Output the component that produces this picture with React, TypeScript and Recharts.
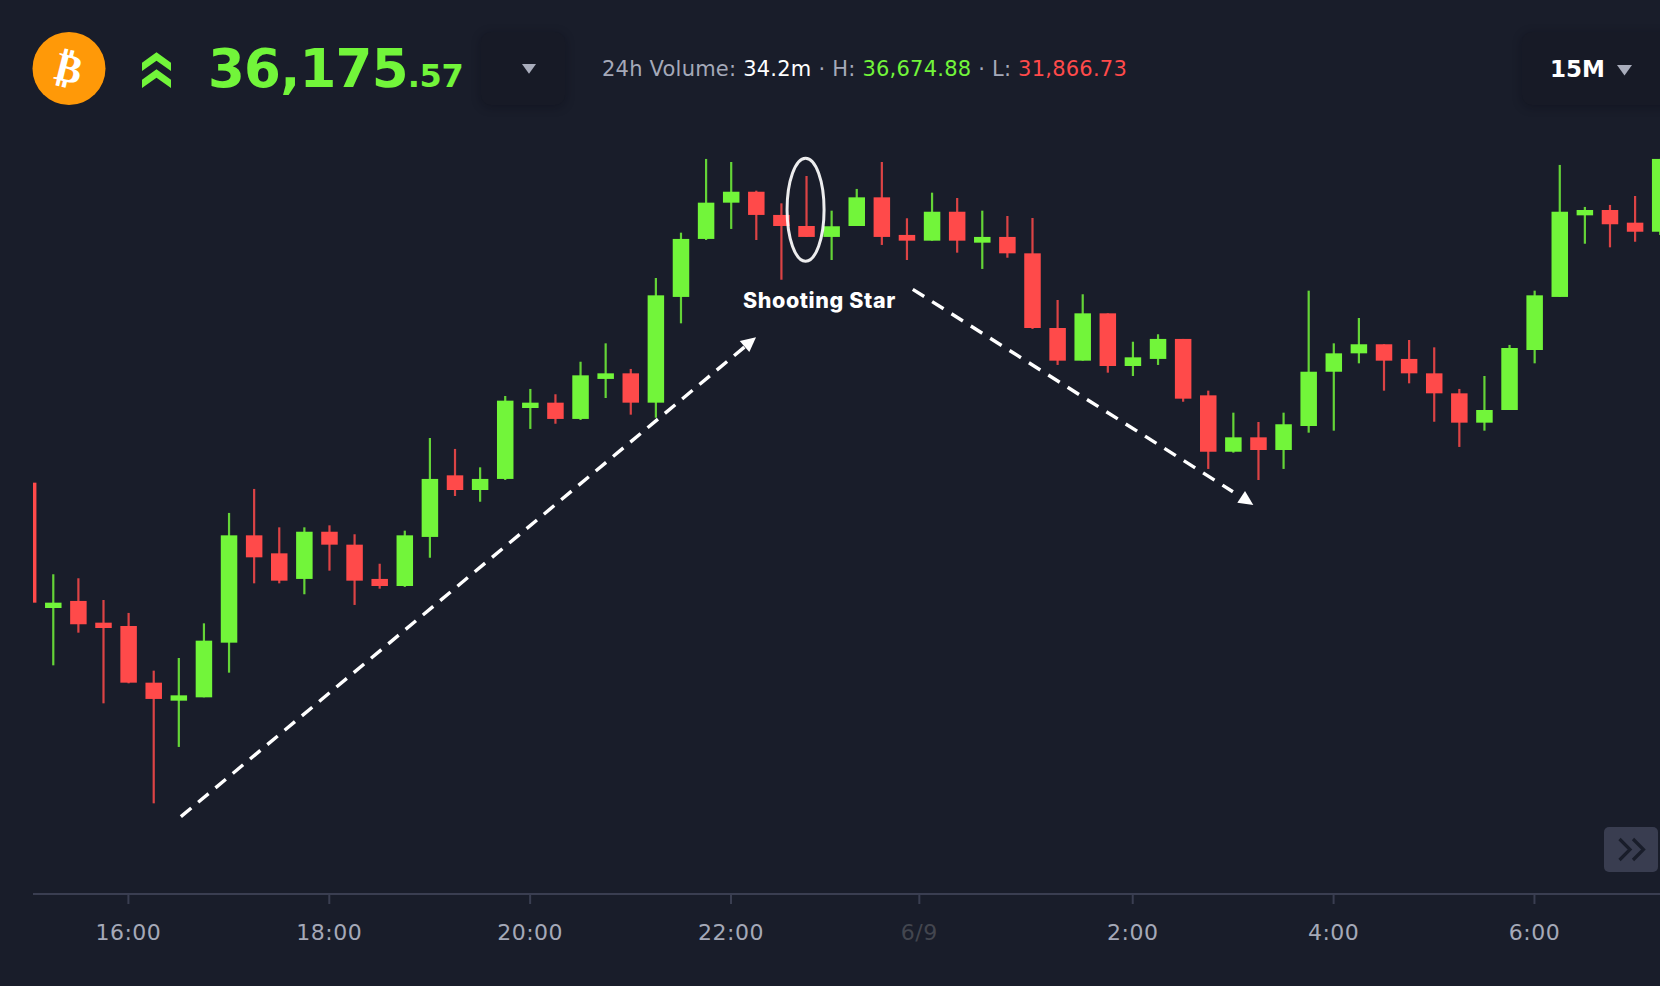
import { BarChart, Bar, XAxis, YAxis, ReferenceLine, ReferenceDot } from 'recharts';

const BG = '#191d2a';
const GREEN = '#72f53a';
const RED = '#ff4a4a';
const FONT = 'Inter, "Noto Sans", sans-serif';
const WIDE_FONT = '"DejaVu Sans", sans-serif';

// 15 minute candles
const opens = [
  34255, 33315, 33368, 33205, 33180, 32755, 32620, 32645, 33055, 33860, 33725,
  33533, 33887, 33790, 33533, 33480, 33848, 34310, 34200, 34283, 34815, 34855,
  34733, 35033, 35075, 34855, 35648, 36083, 36355, 36437, 36263, 36180, 36098,
  36180, 36395, 36113, 36070, 36287, 36055, 36098, 35975, 35415, 35170, 35525,
  35130, 35183, 35333, 34910, 34487, 34595, 34500, 34680, 35087, 35225, 35293,
  35183, 35075, 34925, 34705, 34800, 35250, 35648, 36260, 36300, 36205, 36137,
];
const closes = [
  33355, 33355, 33193, 33165, 32755, 32633, 32660, 33070, 33860, 33695, 33520,
  33887, 33790, 33520, 33480, 33860, 34283, 34200, 34283, 34870, 34855, 34733,
  35060, 35075, 34855, 35660, 36083, 36355, 36437, 36263, 36180, 36098, 36178,
  36395, 36098, 36070, 36287, 36070, 36098, 35975, 35415, 35170, 35525, 35130,
  35195, 35333, 34885, 34487, 34595, 34500, 34693, 35087, 35225, 35293, 35170,
  35075, 34925, 34705, 34800, 35265, 35660, 36287, 36300, 36193, 36137, 36683,
];
const highs = [
  34255, 33568, 33538, 33375, 33278, 32845, 32940, 33200, 34028, 34208, 33920,
  33920, 33935, 33868, 33647, 33895, 34590, 34508, 34370, 34905, 34958, 34918,
  35162, 35300, 35108, 35790, 36130, 36683, 36660, 36445, 36350, 36555, 36295,
  36458, 36660, 36238, 36430, 36390, 36295, 36255, 36240, 35625, 35668, 35525,
  35312, 35368, 35333, 34945, 34780, 34710, 34780, 35695, 35300, 35490, 35293,
  35325, 35270, 34958, 35055, 35288, 35695, 36638, 36323, 36338, 36405, 36683,
];
const lows = [
  33355, 32885, 33130, 32600, 32750, 31850, 32273, 32645, 32830, 33500, 33500,
  33418, 33595, 33338, 33460, 33473, 33692, 34155, 34112, 34275, 34658, 34697,
  34725, 34890, 34765, 34742, 35450, 36075, 36158, 36075, 35777, 36098, 35925,
  36180, 36038, 35925, 36070, 35980, 35858, 35942, 35408, 35138, 35170, 35080,
  35055, 35138, 34862, 34358, 34480, 34275, 34358, 34630, 34645, 35150, 34945,
  35000, 34712, 34523, 34645, 34800, 35150, 35648, 36047, 36020, 36062, 36113,
];

const tickPositions = [4, 12, 20, 28, 35.5, 44, 52, 60];
const tickLabels = ['16:00', '18:00', '20:00', '22:00', '6/9', '2:00', '4:00', '6:00'];

// annotations, in candle index / price
const riseArrow = [{ x: 6.09, y: 31750 }, { x: 28.63, y: 35287 }];
const riseHead = { x: 28.69, y: 35300 };
const fallArrow = [{ x: 35.24, y: 35705 }, { x: 47.99, y: 34187 }];
const fallHead = { x: 48.48, y: 34128 };
const starMark = { x: 30.97, y: 36302 };
const starLabel = { x: 31.52, y: 35625, text: 'Shooting Star' };

const candles = opens.map((open, i) => ({
  i,
  open,
  close: closes[i],
  range: [lows[i], highs[i]],
}));

function Candle(props: any) {
  const { x, y, width, height, payload } = props;
  const up = payload.close >= payload.open;
  const color = up ? GREEN : RED;
  const [low, high] = payload.range;
  const pxPerUnit = height / (high - low);
  const top = y + (high - Math.max(payload.open, payload.close)) * pxPerUnit;
  const bodyH = Math.abs(payload.close - payload.open) * pxPerUnit;
  // recharts truncates the bar offset on a number axis, put the candle back on its tick
  const left = x + 0.5;
  const mid = left + width / 2;
  return (
    <g>
      <rect x={mid - 1.1} y={y} width={2.2} height={height} fill={color} fillOpacity={0.85} />
      <rect x={left} y={top} width={width} height={bodyH} fill={color} />
    </g>
  );
}

function TimeTick({ x, y, payload }: any) {
  const label = tickLabels[tickPositions.indexOf(payload.value)];
  return (
    <text
      x={x}
      y={y}
      dy={28}
      textAnchor="middle"
      fontSize={22}
      letterSpacing={0.5}
      fontFamily={WIDE_FONT}
      fill={label === '6/9' ? '#43464f' : '#a5a9b8'}
    >
      {label}
    </text>
  );
}

function Triangle({ size, color, style }: any) {
  return (
    <svg width={size} height={size * 0.7} style={{ position: 'absolute', ...style }}>
      <path d={`M0 0H${size}L${size / 2} ${size * 0.7}Z`} fill={color} />
    </svg>
  );
}

const dropBox: React.CSSProperties = {
  position: 'absolute',
  top: 32,
  height: 73,
  background: '#171a26',
  borderRadius: 10,
  boxShadow: '0 2px 10px rgba(10,8,20,0.35)',
};

function Header() {
  return (
    <>
      <svg width={110} height={110} style={{ position: 'absolute', left: 0, top: 0 }}>
        <circle cx={69} cy={68.5} r={36.5} fill="#ff9908" />
        <text
          x={69}
          y={82}
          textAnchor="middle"
          fontSize={40}
          fontWeight={700}
          fontFamily="DejaVu Sans"
          fill="#fff"
          transform="rotate(14 69 68)"
        >
          ₿
        </text>
      </svg>
      <svg width={40} height={50} style={{ position: 'absolute', left: 138, top: 45 }}>
        <path d="M18.5 7.3L33 17.7V26L18.5 15.7L4 26V17.7Z" fill={GREEN} />
        <path d="M18.5 24.3L33 34.7V43L18.5 32.7L4 43V34.7Z" fill={GREEN} />
      </svg>
      <div
        style={{
          position: 'absolute',
          left: 208,
          top: 36,
          color: GREEN,
          fontFamily: WIDE_FONT,
          fontWeight: 700,
          fontSize: 53,
          lineHeight: '66px',
          letterSpacing: -0.8,
          whiteSpace: 'nowrap',
        }}
      >
        36,175<span style={{ fontSize: 32, letterSpacing: -0.3 }}>.57</span>
      </div>
      <div style={{ ...dropBox, left: 481, width: 84 }} />
      <Triangle size={14} color="#a9adbc" style={{ left: 522, top: 64 }} />
      <div
        style={{
          position: 'absolute',
          left: 602,
          top: 54,
          fontFamily: WIDE_FONT,
          fontSize: 21,
          letterSpacing: 0.22,
          lineHeight: '30px',
          color: '#a5a9b9',
          whiteSpace: 'nowrap',
        }}
      >
        24h Volume: <span style={{ color: '#fff' }}>34.2m</span> · H:{' '}
        <span style={{ color: GREEN }}>36,674.88</span> · L:{' '}
        <span style={{ color: RED }}>31,866.73</span>
      </div>
      <div style={{ ...dropBox, left: 1522, width: 150 }} />
      <div
        style={{
          position: 'absolute',
          left: 1550,
          top: 54,
          fontFamily: WIDE_FONT,
          fontSize: 23,
          fontWeight: 700,
          lineHeight: '30px',
          color: '#fff',
        }}
      >
        15M
      </div>
      <Triangle size={15} color="#a9adbc" style={{ left: 1617, top: 65 }} />
      <div
        style={{
          position: 'absolute',
          left: 1604,
          top: 827,
          width: 54,
          height: 45,
          background: '#393d50',
          borderRadius: 5,
        }}
      >
        <svg width={54} height={45}>
          <path d="M15.5 12L26 22.5L15.5 33M29 12L39.5 22.5L29 33" fill="none" stroke={BG} strokeWidth={3.2} />
        </svg>
      </div>
    </>
  );
}

export default function App() {
  return (
    <div
      style={{
        position: 'absolute',
        left: 0,
        top: 0,
        width: 1660,
        height: 986,
        overflow: 'hidden',
        background: BG,
      }}
    >
      <BarChart
        width={1660}
        height={986}
        data={candles}
        margin={{ top: 100, right: 0, bottom: 0, left: 33 }}
      >
        <XAxis
          dataKey="i"
          type="number"
          domain={[0.2, 65]}
          allowDataOverflow
          ticks={tickPositions}
          interval={0}
          height={92}
          stroke="#3a3e51"
          strokeWidth={2}
          tickSize={10}
          tickMargin={8}
          tick={<TimeTick />}
        />
        <YAxis type="number" domain={[31170, 37125]} hide />
        <Bar dataKey="range" barSize={16.5} shape={<Candle />} isAnimationActive={false} />
        <ReferenceLine segment={riseArrow} stroke="#fff" strokeWidth={3.4} strokeDasharray="13.5 9" ifOverflow="visible" />
        <ReferenceLine segment={fallArrow} stroke="#fff" strokeWidth={3.4} strokeDasharray="13.5 9.4" ifOverflow="visible" />
        <ReferenceDot
          x={riseHead.x}
          y={riseHead.y}
          ifOverflow="visible"
          shape={({ cx, cy }: any) => (
            <path transform={`translate(${cx} ${cy})`} d="M7.7 -6.1L-8.6 -2.4L1 8.6Z" fill="#fff" />
          )}
        />
        <ReferenceDot
          x={fallHead.x}
          y={fallHead.y}
          ifOverflow="visible"
          shape={({ cx, cy }: any) => (
            <path transform={`translate(${cx} ${cy})`} d="M-0.2 -8.6L-7.9 3.1L8.1 5.4Z" fill="#fff" />
          )}
        />
        <ReferenceDot
          x={starMark.x}
          y={starMark.y}
          ifOverflow="visible"
          shape={({ cx, cy }: any) => (
            <ellipse cx={cx} cy={cy} rx={18.5} ry={51.5} fill="none" stroke="#fff" strokeOpacity={0.92} strokeWidth={3} />
          )}
        />
        <ReferenceDot
          x={starLabel.x}
          y={starLabel.y}
          ifOverflow="visible"
          shape={({ cx, cy }: any) => (
            <text x={cx} y={cy} dy={8} textAnchor="middle" fontSize={21.5} fontWeight={800} letterSpacing={0.6} fontFamily={FONT} fill="#fff">
              {starLabel.text}
            </text>
          )}
        />
      </BarChart>
      <Header />
    </div>
  );
}
